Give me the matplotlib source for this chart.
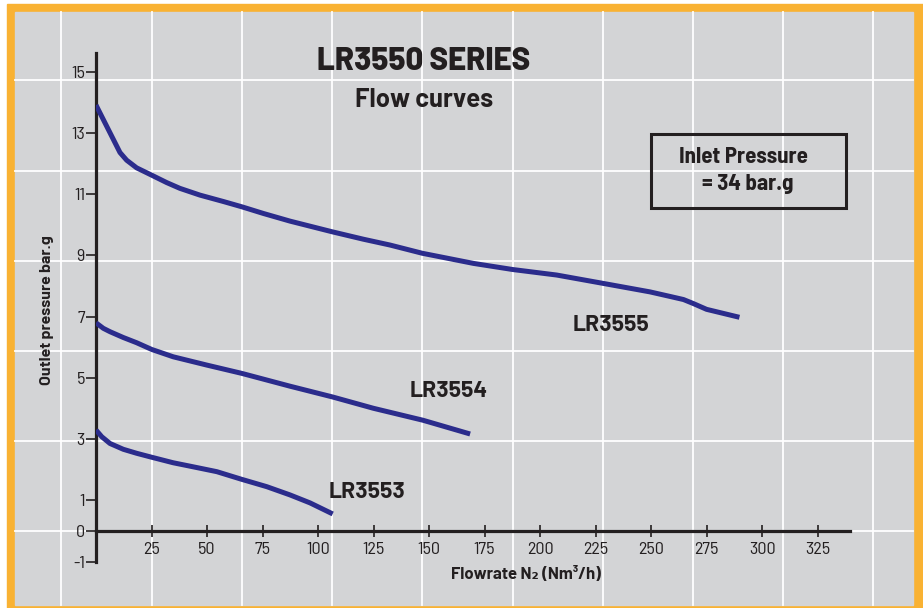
import numpy as np
import matplotlib
matplotlib.use("Agg")
import matplotlib.pyplot as plt
from matplotlib.patches import Rectangle
from matplotlib.lines import Line2D

plt.rcParams['font.family'] = ['Barlow Semi Condensed', 'DejaVu Sans']
WIDE = ['Barlow', 'Barlow Semi Condensed', 'DejaVu Sans']
SEMI = ['Barlow Semi Condensed', 'DejaVu Sans']

# flow curves (flowrate Nm3/h, outlet pressure bar.g)
lr3555_x = [0, 10.8, 13.8, 18.3, 25.1, 31.8, 37.8, 46.8, 57.4, 65.6, 75.4, 87.4, 106.5, 120.4,
            132.4, 147, 170, 187.7, 207.5, 228.2, 249.5, 258, 264.6, 269, 275, 289.8]
lr3555_y = [13.91, 12.36, 12.11, 11.86, 11.62, 11.38, 11.19, 10.97, 10.76, 10.59, 10.37, 10.12, 9.77, 9.53,
            9.34, 9.07, 8.74, 8.54, 8.36, 8.09, 7.81, 7.67, 7.56, 7.43, 7.24, 6.98]

lr3554_x = [0, 3.3, 6.3, 12.3, 18.3, 25.1, 34.8, 49.9, 65.6, 87.4, 106.5, 124.9, 147.2, 168.5]
lr3554_y = [6.8, 6.62, 6.51, 6.32, 6.15, 5.93, 5.69, 5.42, 5.15, 4.73, 4.38, 4.01, 3.62, 3.17]

lr3553_x = [0, 2.6, 6.3, 12.3, 18.3, 25.1, 34.8, 42.3, 54.4, 65.6, 76.9, 87.4, 96.4, 106.6]
lr3553_y = [3.3, 3.08, 2.86, 2.67, 2.54, 2.41, 2.23, 2.12, 1.94, 1.69, 1.45, 1.18, 0.92, 0.56]

x_ticks = [25, 50, 75, 100, 125, 150, 175, 200, 225, 250, 275, 300, 325]
y_ticks = [-1, 0, 1, 3, 5, 7, 9, 11, 13, 15]

W, H = 923, 608
ORANGE = '#F9B233'
GREY = '#D3D4D6'
BLUE = '#2B2C8C'
INK = '#231F20'


def fx(px):
    return px / W


def fy(py):
    return 1 - py / H


fig = plt.figure(figsize=(W / 100, H / 100), dpi=100)
fig.patch.set_facecolor('white')

# orange frame + grey panel
fig.patches.append(Rectangle((fx(7), fy(608)), fx(923) - fx(7), fy(4) - fy(608),
                             transform=fig.transFigure, color=ORANGE, zorder=-3))
fig.patches.append(Rectangle((fx(15), fy(605)), fx(913) - fx(15), fy(12) - fy(605),
                             transform=fig.transFigure, color=GREY, zorder=-2))

# decorative background grid
for gx in [61, 152, 242, 332, 422, 513, 603, 693, 783, 873]:
    fig.add_artist(Line2D([fx(gx), fx(gx)], [fy(12), fy(605)], transform=fig.transFigure,
                          color='white', lw=1.3, zorder=-1))
for gy in [80, 170.7, 261, 351, 441, 531]:
    fig.add_artist(Line2D([fx(15), fx(913)], [fy(gy), fy(gy)], transform=fig.transFigure,
                          color='white', lw=1.3, zorder=-1))

ax = fig.add_axes([fx(96), fy(561.7), fx(850) - fx(96), fy(53.3) - fy(561.7)])
ax.set_facecolor('none')
ax.set_xlim(0, 339.6)
ax.set_ylim(-1, 15.6)

for s in ['top', 'right']:
    ax.spines[s].set_visible(False)
ax.spines['left'].set_linewidth(2.3)
ax.spines['left'].set_color(INK)
ax.spines['bottom'].set_position(('data', 0))
ax.spines['bottom'].set_linewidth(2.3)
ax.spines['bottom'].set_color(INK)

ax.set_xticks(x_ticks)
ax.set_yticks(y_ticks)
ax.set_yticklabels([str(v) for v in y_ticks])
ax.tick_params(axis='y', direction='out', length=7, width=1.2, color=INK,
               labelsize=13, labelcolor=INK, pad=1)
ax.tick_params(axis='x', direction='inout', length=8, width=1.2, color=INK,
               labelsize=13, labelcolor=INK, pad=4)

for xs, ys in [(lr3555_x, lr3555_y), (lr3554_x, lr3554_y), (lr3553_x, lr3553_y)]:
    ax.plot(xs, ys, color=BLUE, lw=3.6, solid_capstyle='butt', solid_joinstyle='round', zorder=3)

lab = dict(fontsize=16.5, fontweight='bold', color=INK, ha='center', va='center', family=WIDE)
ax.text(232, 6.73, 'LR3555', **lab)
ax.text(159, 4.57, 'LR3554', **lab)
ax.text(122, 1.27, 'LR3553', **lab)

# titles
fig.text(fx(424), fy(62), 'LR3550 SERIES', fontsize=22.5, fontweight=800, color=INK,
         ha='center', va='center', family=WIDE)
fig.text(fx(424), fy(100), 'Flow curves', fontsize=18.5, fontweight='bold', color=INK,
         ha='center', va='center', family=WIDE)

# inlet pressure box
fig.patches.append(Rectangle((fx(651), fy(208)), fx(846) - fx(651), fy(134) - fy(208),
                             transform=fig.transFigure, fill=False, ec=INK, lw=2.2, zorder=2))
fig.text(fx(743), fy(157), 'Inlet Pressure', fontsize=16.5, fontweight='bold', color=INK,
         ha='center', va='center', family=SEMI)
fig.text(fx(748), fy(184), '= 34 bar.g', fontsize=16.5, fontweight='bold', color=INK,
         ha='center', va='center', family=SEMI)

# axis titles
fig.text(fx(47), fy(310), 'Outlet pressure bar.g', fontsize=11.5, fontweight='bold', color=INK,
         ha='center', va='center', rotation=90, family=WIDE)
fig.text(fx(526), fy(574), 'Flowrate N\u2082 (Nm\u00b3/h)', fontsize=12, fontweight='bold', color=INK,
         ha='center', va='center', family=WIDE)

fig.savefig('out.png', dpi=100)
